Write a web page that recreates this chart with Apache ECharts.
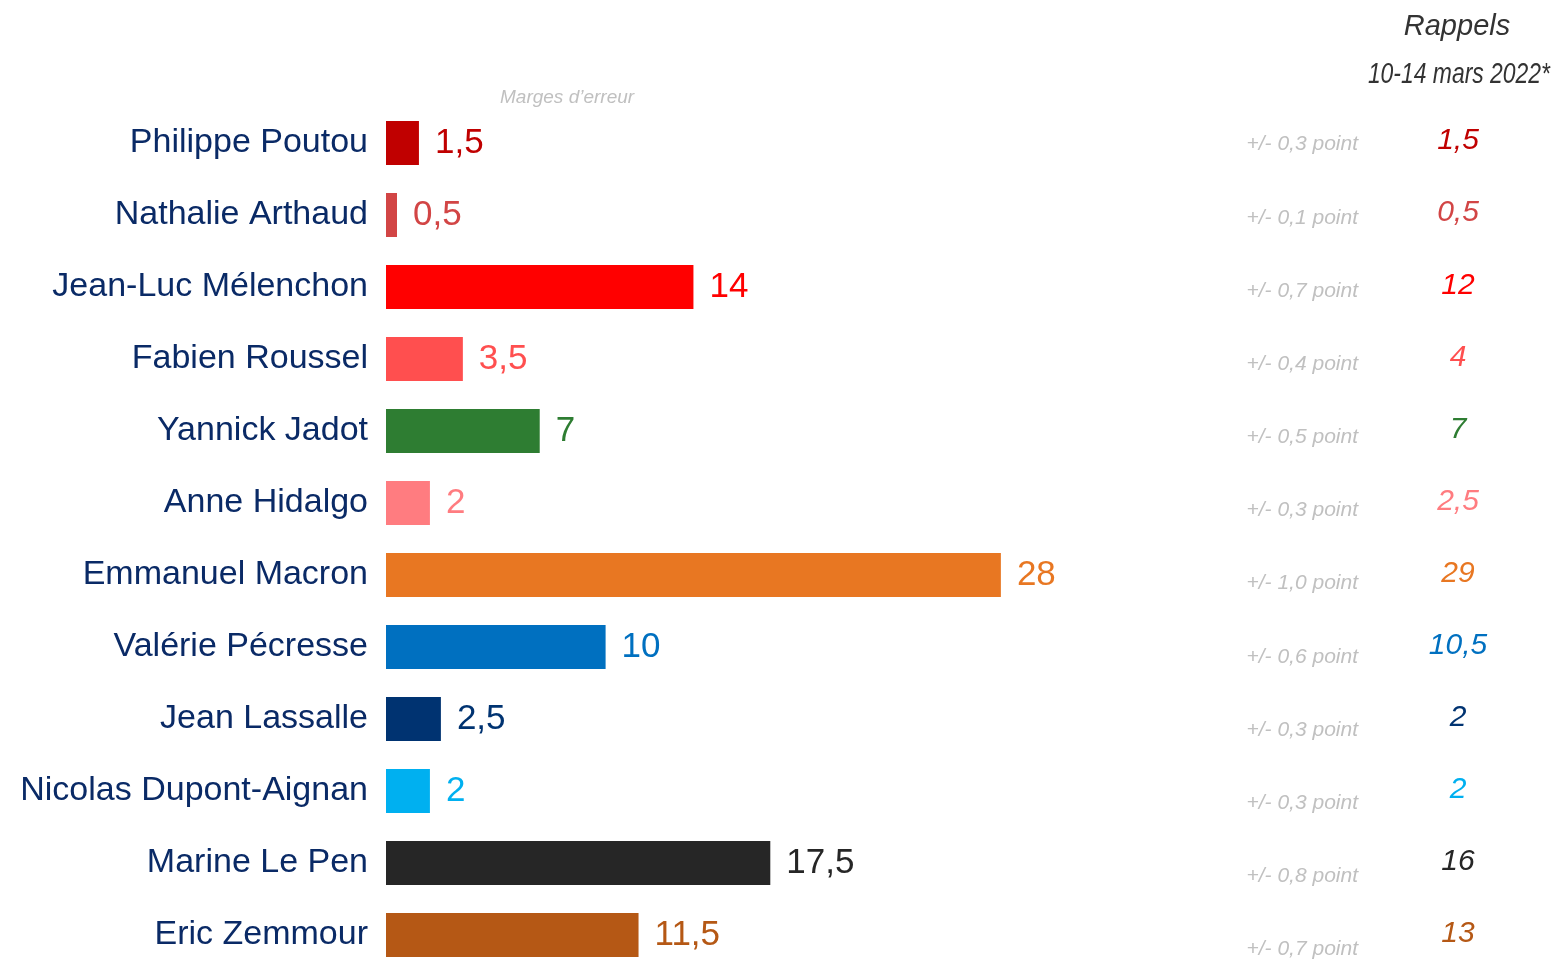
<!DOCTYPE html>
<html>
<head>
<meta charset="utf-8">
<script src="https://cdn.jsdelivr.net/npm/echarts@6/dist/echarts.min.js"></script>
<style>
  html, body { margin: 0; padding: 0; background: #fff; }
  #chart { width: 1552px; height: 960px; }
</style>
</head>
<body>
<div id="chart"></div>
<script>
// intentions de vote, 1er tour
var candidats = ['Philippe Poutou', 'Nathalie Arthaud', 'Jean-Luc Mélenchon', 'Fabien Roussel',
  'Yannick Jadot', 'Anne Hidalgo', 'Emmanuel Macron', 'Valérie Pécresse', 'Jean Lassalle',
  'Nicolas Dupont-Aignan', 'Marine Le Pen', 'Eric Zemmour'];
var scores = [1.5, 0.5, 14, 3.5, 7, 2, 28, 10, 2.5, 2, 17.5, 11.5];
var marges = ['0,3', '0,1', '0,7', '0,4', '0,5', '0,3', '1,0', '0,6', '0,3', '0,3', '0,8', '0,7'];
var rappels = [1.5, 0.5, 12, 4, 7, 2.5, 29, 10.5, 2, 2, 16, 13];
var couleurs = ['#c00000', '#d24545', '#ff0000', '#ff4f4f', '#2e7d32', '#ff7c80',
  '#e87722', '#0070c0', '#003371', '#00b0f0', '#262626', '#b55815'];

function fr(v) { return String(v).replace('.', ','); }

var chart = echarts.init(document.getElementById('chart'));
var font = 'Liberation Sans, Arial, sans-serif';

var option = {
  backgroundColor: '#fff',
  animation: false,
  textStyle: { fontFamily: font },
  graphic: [
    { type: 'text', x: 1457, y: 27, style: { text: 'Rappels', align: 'center', verticalAlign: 'middle',
      font: 'italic 29px ' + font, fill: '#333' } },
    // police étroite simulée
    { type: 'text', x: 1550, y: 75, scaleX: 0.79, style: { text: '10-14 mars 2022*', align: 'right',
      verticalAlign: 'middle', font: 'italic 29px ' + font, fill: '#333' } },
    { type: 'text', x: 500, y: 98, style: { text: 'Marges d’erreur', verticalAlign: 'middle',
      font: 'italic 19px ' + font, fill: '#c0c0c0' } }
  ],
  grid: [
    { left: 386, top: 107, width: 1098, height: 864, outerBoundsMode: 'none' },
    { left: 1360, top: 108, width: 98, height: 878, outerBoundsMode: 'none' },
    { left: 1360, top: 105, width: 98, height: 865, outerBoundsMode: 'none' }
  ],
  xAxis: [
    { type: 'value', gridIndex: 0, min: 0, max: 50, show: false },
    { type: 'value', gridIndex: 1, show: false },
    { type: 'value', gridIndex: 2, show: false }
  ],
  yAxis: [
    {
      type: 'category', gridIndex: 0, data: candidats, inverse: true,
      axisLine: { show: false }, axisTick: { show: false },
      axisLabel: { margin: 18, fontSize: 34, color: '#0a2a66', fontFamily: font, padding: [4, 0, 0, 0] }
    },
    {
      type: 'category', gridIndex: 1, data: marges, inverse: true, position: 'left',
      axisLine: { show: false }, axisTick: { show: false },
      axisLabel: {
        margin: 2, fontSize: 21, fontStyle: 'italic', color: '#c0c0c0', fontFamily: font,
        formatter: function (v) { return '+/- ' + v + ' point'; }
      }
    },
    {
      type: 'category', gridIndex: 2, data: rappels.map(fr), inverse: true, position: 'right',
      axisLine: { show: false }, axisTick: { show: false },
      axisLabel: {
        margin: 0, align: 'center', fontSize: 30, fontStyle: 'italic', fontFamily: font,
        color: function (v, i) { return couleurs[i]; }
      }
    }
  ],
  series: [
    {
      type: 'bar',
      xAxisIndex: 0, yAxisIndex: 0,
      barWidth: 44,
      data: scores.map(function (v, i) {
        return {
          value: v,
          itemStyle: { color: couleurs[i] },
          label: { color: couleurs[i] }
        };
      }),
      label: {
        show: true, position: 'right', distance: 16, fontSize: 35, fontFamily: font,
        padding: [4, 0, 0, 0],
        formatter: function (p) { return fr(p.value); }
      }
    }
  ]
};

chart.setOption(option);
</script>
</body>
</html>
